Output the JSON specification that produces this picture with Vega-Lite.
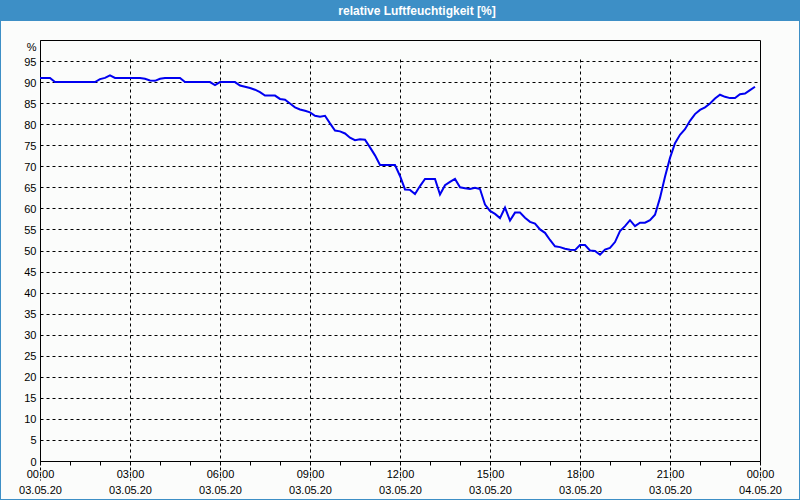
{
  "$schema": "https://vega.github.io/schema/vega-lite/v6.json",
  "background": "#3d8fc6",
  "padding": {"left": 1, "right": 1, "top": 0, "bottom": 1},
  "spacing": 0,
  "config": {
    "axis": {
      "labelFont": "Liberation Sans",
      "labelFontSize": 11,
      "labelColor": "#000000",
      "domainColor": "#000000",
      "domainWidth": 1,
      "tickColor": "#000000",
      "gridColor": "#000000",
      "gridDash": [3, 3],
      "gridWidth": 1,
      "gridOpacity": 1,
      "title": null
    }
  },
  "vconcat": [
    {
      "width": 798,
      "height": 21,
      "view": {"fill": "#3d8fc6", "stroke": null},
      "data": {"values": [{"title": "relative Luftfeuchtigkeit [%]"}]},
      "mark": {"type": "text", "color": "#ffffff", "font": "Liberation Sans", "fontSize": 12, "fontWeight": "bold", "dx": 17, "baseline": "middle", "align": "center"},
      "encoding": {"text": {"field": "title"}}
    },
    {
      "width": 798,
      "height": 478,
      "view": {"fill": "#fbfcfb", "stroke": null},
      "data": {"values": [
        {"t": "2020-05-03T00:00:00Z", "v": 91},
        {"t": "2020-05-03T00:10:00Z", "v": 91},
        {"t": "2020-05-03T00:20:00Z", "v": 91},
        {"t": "2020-05-03T00:30:00Z", "v": 90},
        {"t": "2020-05-03T00:40:00Z", "v": 90},
        {"t": "2020-05-03T00:50:00Z", "v": 90},
        {"t": "2020-05-03T01:00:00Z", "v": 90},
        {"t": "2020-05-03T01:10:00Z", "v": 90},
        {"t": "2020-05-03T01:20:00Z", "v": 90},
        {"t": "2020-05-03T01:30:00Z", "v": 90},
        {"t": "2020-05-03T01:40:00Z", "v": 90},
        {"t": "2020-05-03T01:50:00Z", "v": 90},
        {"t": "2020-05-03T02:00:00Z", "v": 90.7},
        {"t": "2020-05-03T02:10:00Z", "v": 91},
        {"t": "2020-05-03T02:20:00Z", "v": 91.6},
        {"t": "2020-05-03T02:30:00Z", "v": 91},
        {"t": "2020-05-03T02:40:00Z", "v": 91},
        {"t": "2020-05-03T02:50:00Z", "v": 91},
        {"t": "2020-05-03T03:00:00Z", "v": 91},
        {"t": "2020-05-03T03:10:00Z", "v": 91},
        {"t": "2020-05-03T03:20:00Z", "v": 91},
        {"t": "2020-05-03T03:30:00Z", "v": 90.8},
        {"t": "2020-05-03T03:40:00Z", "v": 90.4},
        {"t": "2020-05-03T03:50:00Z", "v": 90.3},
        {"t": "2020-05-03T04:00:00Z", "v": 90.8},
        {"t": "2020-05-03T04:10:00Z", "v": 91},
        {"t": "2020-05-03T04:20:00Z", "v": 91},
        {"t": "2020-05-03T04:30:00Z", "v": 91},
        {"t": "2020-05-03T04:40:00Z", "v": 91},
        {"t": "2020-05-03T04:50:00Z", "v": 90},
        {"t": "2020-05-03T05:00:00Z", "v": 90},
        {"t": "2020-05-03T05:10:00Z", "v": 90},
        {"t": "2020-05-03T05:20:00Z", "v": 90},
        {"t": "2020-05-03T05:30:00Z", "v": 90},
        {"t": "2020-05-03T05:40:00Z", "v": 90},
        {"t": "2020-05-03T05:50:00Z", "v": 89.3},
        {"t": "2020-05-03T06:00:00Z", "v": 90},
        {"t": "2020-05-03T06:10:00Z", "v": 90},
        {"t": "2020-05-03T06:20:00Z", "v": 90},
        {"t": "2020-05-03T06:30:00Z", "v": 90},
        {"t": "2020-05-03T06:40:00Z", "v": 89.2},
        {"t": "2020-05-03T06:50:00Z", "v": 88.9},
        {"t": "2020-05-03T07:00:00Z", "v": 88.6},
        {"t": "2020-05-03T07:10:00Z", "v": 88.2},
        {"t": "2020-05-03T07:20:00Z", "v": 87.6},
        {"t": "2020-05-03T07:30:00Z", "v": 86.8},
        {"t": "2020-05-03T07:40:00Z", "v": 86.8},
        {"t": "2020-05-03T07:50:00Z", "v": 86.8},
        {"t": "2020-05-03T08:00:00Z", "v": 86},
        {"t": "2020-05-03T08:10:00Z", "v": 85.8},
        {"t": "2020-05-03T08:20:00Z", "v": 84.9},
        {"t": "2020-05-03T08:30:00Z", "v": 84},
        {"t": "2020-05-03T08:40:00Z", "v": 83.5},
        {"t": "2020-05-03T08:50:00Z", "v": 83.2},
        {"t": "2020-05-03T09:00:00Z", "v": 82.8},
        {"t": "2020-05-03T09:10:00Z", "v": 82},
        {"t": "2020-05-03T09:20:00Z", "v": 81.8},
        {"t": "2020-05-03T09:30:00Z", "v": 82},
        {"t": "2020-05-03T09:40:00Z", "v": 80.2},
        {"t": "2020-05-03T09:50:00Z", "v": 78.5},
        {"t": "2020-05-03T10:00:00Z", "v": 78.3},
        {"t": "2020-05-03T10:10:00Z", "v": 77.8},
        {"t": "2020-05-03T10:20:00Z", "v": 76.8},
        {"t": "2020-05-03T10:30:00Z", "v": 76.2},
        {"t": "2020-05-03T10:40:00Z", "v": 76.4},
        {"t": "2020-05-03T10:50:00Z", "v": 76.3},
        {"t": "2020-05-03T11:00:00Z", "v": 74.5},
        {"t": "2020-05-03T11:10:00Z", "v": 72.6},
        {"t": "2020-05-03T11:20:00Z", "v": 70.3},
        {"t": "2020-05-03T11:30:00Z", "v": 70.3},
        {"t": "2020-05-03T11:40:00Z", "v": 70.3},
        {"t": "2020-05-03T11:50:00Z", "v": 70.3},
        {"t": "2020-05-03T12:00:00Z", "v": 67.7},
        {"t": "2020-05-03T12:10:00Z", "v": 64.5},
        {"t": "2020-05-03T12:20:00Z", "v": 64.4},
        {"t": "2020-05-03T12:30:00Z", "v": 63.4},
        {"t": "2020-05-03T12:40:00Z", "v": 65.3},
        {"t": "2020-05-03T12:50:00Z", "v": 67},
        {"t": "2020-05-03T13:00:00Z", "v": 67},
        {"t": "2020-05-03T13:10:00Z", "v": 67},
        {"t": "2020-05-03T13:20:00Z", "v": 63.3},
        {"t": "2020-05-03T13:30:00Z", "v": 65.5},
        {"t": "2020-05-03T13:40:00Z", "v": 66.3},
        {"t": "2020-05-03T13:50:00Z", "v": 67},
        {"t": "2020-05-03T14:00:00Z", "v": 65},
        {"t": "2020-05-03T14:10:00Z", "v": 64.8},
        {"t": "2020-05-03T14:20:00Z", "v": 64.6},
        {"t": "2020-05-03T14:30:00Z", "v": 64.9},
        {"t": "2020-05-03T14:40:00Z", "v": 64.6},
        {"t": "2020-05-03T14:50:00Z", "v": 60.9},
        {"t": "2020-05-03T15:00:00Z", "v": 59.4},
        {"t": "2020-05-03T15:10:00Z", "v": 58.7},
        {"t": "2020-05-03T15:20:00Z", "v": 57.7},
        {"t": "2020-05-03T15:30:00Z", "v": 60.2},
        {"t": "2020-05-03T15:40:00Z", "v": 57.1},
        {"t": "2020-05-03T15:50:00Z", "v": 59},
        {"t": "2020-05-03T16:00:00Z", "v": 59},
        {"t": "2020-05-03T16:10:00Z", "v": 57.8},
        {"t": "2020-05-03T16:20:00Z", "v": 56.8},
        {"t": "2020-05-03T16:30:00Z", "v": 56.4},
        {"t": "2020-05-03T16:40:00Z", "v": 55},
        {"t": "2020-05-03T16:50:00Z", "v": 54.2},
        {"t": "2020-05-03T17:00:00Z", "v": 52.5},
        {"t": "2020-05-03T17:10:00Z", "v": 51},
        {"t": "2020-05-03T17:20:00Z", "v": 50.8},
        {"t": "2020-05-03T17:30:00Z", "v": 50.4},
        {"t": "2020-05-03T17:40:00Z", "v": 50.2},
        {"t": "2020-05-03T17:50:00Z", "v": 50.1},
        {"t": "2020-05-03T18:00:00Z", "v": 51.3},
        {"t": "2020-05-03T18:10:00Z", "v": 51.3},
        {"t": "2020-05-03T18:20:00Z", "v": 50},
        {"t": "2020-05-03T18:30:00Z", "v": 49.9},
        {"t": "2020-05-03T18:40:00Z", "v": 49},
        {"t": "2020-05-03T18:50:00Z", "v": 50.2},
        {"t": "2020-05-03T19:00:00Z", "v": 50.6},
        {"t": "2020-05-03T19:10:00Z", "v": 52},
        {"t": "2020-05-03T19:20:00Z", "v": 54.6},
        {"t": "2020-05-03T19:30:00Z", "v": 55.8},
        {"t": "2020-05-03T19:40:00Z", "v": 57.2},
        {"t": "2020-05-03T19:50:00Z", "v": 55.8},
        {"t": "2020-05-03T20:00:00Z", "v": 56.6},
        {"t": "2020-05-03T20:10:00Z", "v": 56.6},
        {"t": "2020-05-03T20:20:00Z", "v": 57.2},
        {"t": "2020-05-03T20:30:00Z", "v": 58.5},
        {"t": "2020-05-03T20:40:00Z", "v": 62.5},
        {"t": "2020-05-03T20:50:00Z", "v": 67.5},
        {"t": "2020-05-03T21:00:00Z", "v": 72},
        {"t": "2020-05-03T21:10:00Z", "v": 75.5},
        {"t": "2020-05-03T21:20:00Z", "v": 77.5},
        {"t": "2020-05-03T21:30:00Z", "v": 78.8},
        {"t": "2020-05-03T21:40:00Z", "v": 80.8},
        {"t": "2020-05-03T21:50:00Z", "v": 82.4},
        {"t": "2020-05-03T22:00:00Z", "v": 83.4},
        {"t": "2020-05-03T22:10:00Z", "v": 84},
        {"t": "2020-05-03T22:20:00Z", "v": 84.9},
        {"t": "2020-05-03T22:30:00Z", "v": 86.1},
        {"t": "2020-05-03T22:40:00Z", "v": 87},
        {"t": "2020-05-03T22:50:00Z", "v": 86.5},
        {"t": "2020-05-03T23:00:00Z", "v": 86.2},
        {"t": "2020-05-03T23:10:00Z", "v": 86.2},
        {"t": "2020-05-03T23:20:00Z", "v": 87.1},
        {"t": "2020-05-03T23:30:00Z", "v": 87.3},
        {"t": "2020-05-03T23:40:00Z", "v": 88.1},
        {"t": "2020-05-03T23:50:00Z", "v": 88.9}
      ]},
      "layer": [
        {
          "mark": {"type": "line", "color": "#0000f0", "strokeWidth": 2},
          "encoding": {
            "x": {
              "field": "t", "type": "temporal",
              "scale": {
                "type": "utc",
                "domain": [
                  {"year": 2020, "month": 5, "date": 3, "hours": 0, "utc": true},
                  {"year": 2020, "month": 5, "date": 4, "hours": 0, "utc": true}
                ],
                "range": [39, 759],
                "nice": false
              },
              "axis": {
                "orient": "bottom",
                "offset": -38,
                "values": [
                  {"year": 2020, "month": 5, "date": 3, "hours": 0, "utc": true},
                  {"year": 2020, "month": 5, "date": 3, "hours": 1, "utc": true},
                  {"year": 2020, "month": 5, "date": 3, "hours": 2, "utc": true},
                  {"year": 2020, "month": 5, "date": 3, "hours": 3, "utc": true},
                  {"year": 2020, "month": 5, "date": 3, "hours": 4, "utc": true},
                  {"year": 2020, "month": 5, "date": 3, "hours": 5, "utc": true},
                  {"year": 2020, "month": 5, "date": 3, "hours": 6, "utc": true},
                  {"year": 2020, "month": 5, "date": 3, "hours": 7, "utc": true},
                  {"year": 2020, "month": 5, "date": 3, "hours": 8, "utc": true},
                  {"year": 2020, "month": 5, "date": 3, "hours": 9, "utc": true},
                  {"year": 2020, "month": 5, "date": 3, "hours": 10, "utc": true},
                  {"year": 2020, "month": 5, "date": 3, "hours": 11, "utc": true},
                  {"year": 2020, "month": 5, "date": 3, "hours": 12, "utc": true},
                  {"year": 2020, "month": 5, "date": 3, "hours": 13, "utc": true},
                  {"year": 2020, "month": 5, "date": 3, "hours": 14, "utc": true},
                  {"year": 2020, "month": 5, "date": 3, "hours": 15, "utc": true},
                  {"year": 2020, "month": 5, "date": 3, "hours": 16, "utc": true},
                  {"year": 2020, "month": 5, "date": 3, "hours": 17, "utc": true},
                  {"year": 2020, "month": 5, "date": 3, "hours": 18, "utc": true},
                  {"year": 2020, "month": 5, "date": 3, "hours": 19, "utc": true},
                  {"year": 2020, "month": 5, "date": 3, "hours": 20, "utc": true},
                  {"year": 2020, "month": 5, "date": 3, "hours": 21, "utc": true},
                  {"year": 2020, "month": 5, "date": 3, "hours": 22, "utc": true},
                  {"year": 2020, "month": 5, "date": 3, "hours": 23, "utc": true},
                  {"year": 2020, "month": 5, "date": 4, "hours": 0, "utc": true}
                ],
                "labelExpr": "utchours(datum.value) % 3 == 0 ? [utcFormat(datum.value, '%H:%M'), utcFormat(datum.value, '%d.%m.%y')] : ''",
                "labelFlush": false,
                "labelOverlap": false,
                "labelBound": false,
                "labelAlign": "center",
                "labelBaseline": "top",
                "labelPadding": 3,
                "labelLineHeight": 16,
                "tickSize": 4,
                "grid": true,
                "gridOpacity": {"condition": {"test": "utchours(datum.value) % 3 == 0", "value": 1}, "value": 0},
                "title": null
              }
            },
            "y": {
              "field": "v", "type": "quantitative",
              "scale": {"domain": [0, 100], "range": [440, 19], "nice": false, "zero": true},
              "axis": {
                "orient": "left",
                "offset": -39,
                "values": [0, 5, 10, 15, 20, 25, 30, 35, 40, 45, 50, 55, 60, 65, 70, 75, 80, 85, 90, 95, 100],
                "labelExpr": "datum.value == 100 ? '%' : datum.label",
                "ticks": false,
                "tickSize": 0,
                "labelPadding": 4,
                "labelFlush": false,
                "labelOverlap": false,
                "labelBaseline": {"condition": {"test": "datum.value == 100", "value": "top"}, "value": "middle"},
                "labelOffset": 1,
                "grid": true,
                "title": null
              }
            }
          }
        },
        {
          "mark": {"type": "line", "opacity": 0},
          "encoding": {
            "x": {
              "field": "t", "type": "temporal",
              "axis": {"orient": "top", "offset": -19, "labels": false, "ticks": false, "grid": false, "title": null}
            },
            "y": {
              "field": "v", "type": "quantitative",
              "axis": {"orient": "right", "offset": -39, "labels": false, "ticks": false, "grid": false, "title": null}
            }
          }
        }
      ],
      "resolve": {"axis": {"x": "independent", "y": "independent"}}
    }
  ]
}
